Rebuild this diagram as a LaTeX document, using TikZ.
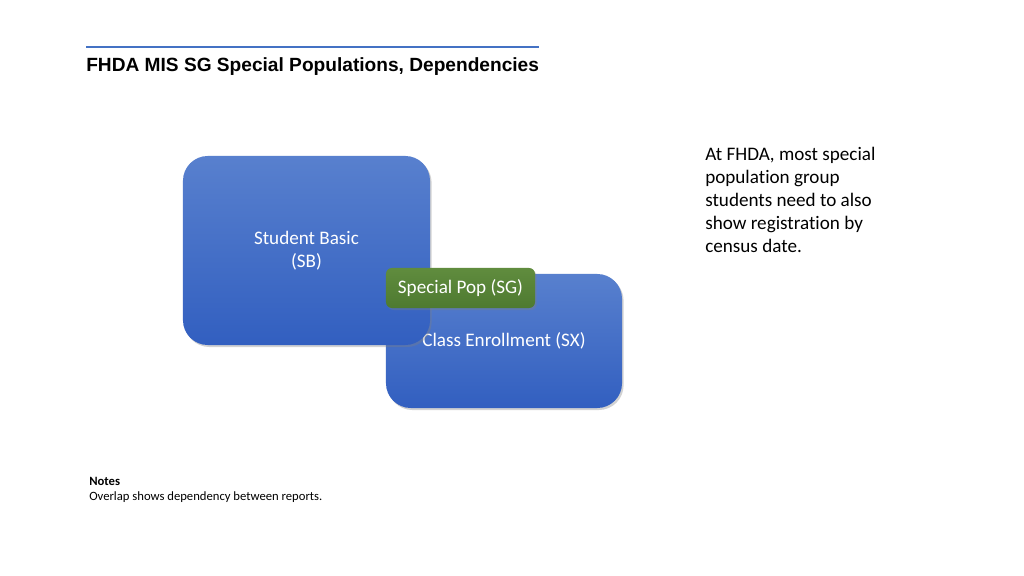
\documentclass[tikz,border=0pt]{standalone}
\usepackage{fontspec}
\setmainfont{Carlito}[Ligatures=NoCommon]
\newfontfamily\titlefont{Liberation Sans}
\usetikzlibrary{shadows}
\definecolor{fhda_blueT}{RGB}{88,128,206}
\definecolor{fhda_blueB}{RGB}{50,95,192}
\definecolor{fhda_greenT}{RGB}{96,140,62}
\definecolor{fhda_greenB}{RGB}{78,122,48}
\definecolor{fhda_rule}{RGB}{68,114,196}
\tikzset{
  reportbox/.style={shape=rectangle,rounded corners=0.62cm,top color=fhda_blueT,bottom color=fhda_blueB,
    draw=none,text=white,align=center,font=\fontsize{13.6}{16.4}\selectfont,
    drop shadow={shadow xshift=0.04cm,shadow yshift=-0.05cm,opacity=0.35}},
  groupbox/.style={shape=rectangle,rounded corners=0.15cm,top color=fhda_greenT,bottom color=fhda_greenB,
    draw=none,text=white,align=center,font=\fontsize{13.6}{16.4}\selectfont,
    drop shadow={shadow xshift=0.04cm,shadow yshift=-0.05cm,opacity=0.35}}
}
\begin{document}
\begin{tikzpicture}[x=0.025cm,y=-0.025cm]
    \useasboundingbox[fill=white] (0,0) rectangle (1024,576);
    % title
    \draw[fhda_rule,line width=0.05cm] (86,47) to (539,47);
    \node[anchor=base west,inner sep=0,font=\titlefont\bfseries\fontsize{13.6}{16}\selectfont] (title) at (86,72) {FHDA MIS SG Special Populations, Dependencies};
    % reports
    \node[reportbox,minimum width=5.9cm,minimum height=3.35cm] (sx) at (504,341) {Class Enrollment (SX)};
    \node[reportbox,minimum width=6.175cm,minimum height=4.725cm] (sb) at (306.5,250.5) {Student Basic\\(SB)};
    \node[groupbox,minimum width=3.725cm,minimum height=1.0cm] (sg) at (460.5,288) {Special Pop (SG)};
    % side text
    \node[anchor=north west,inner sep=0,align=left,font=\fontsize{13.6}{16.4}\selectfont] (remark) at (705,147) {At FHDA, most special\\population group\\students need to also\\show registration by\\census date.};
    % notes
    \node[anchor=base west,inner sep=0,font=\bfseries\fontsize{9}{11}\selectfont] (notes) at (89,485) {Notes};
    \node[anchor=base west,inner sep=0,font=\fontsize{9}{11}\selectfont] (notestext) at (89,500) {Overlap shows dependency between reports.};
\end{tikzpicture}
\end{document}
